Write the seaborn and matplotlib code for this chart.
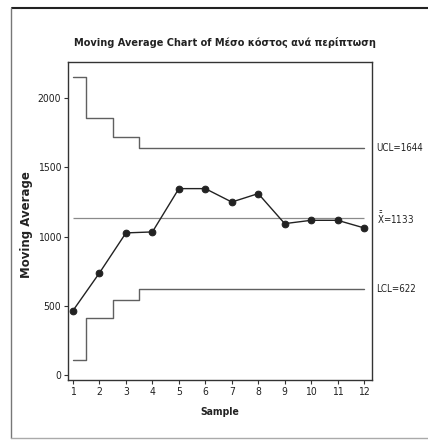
import matplotlib
matplotlib.use("Agg")
import matplotlib.pyplot as plt
from matplotlib.lines import Line2D
import numpy as np
import pandas as pd
import seaborn as sns

# Moving average of the mean cost per case, with limits that narrow as the span fills
samples = list(range(1, 13))
moving_avg = [466, 738, 1027, 1034, 1347, 1347, 1250, 1311, 1094, 1118, 1118, 1063]
center = 1133
ucl = [2155, 1856, 1723, 1644, 1644, 1644, 1644, 1644, 1644, 1644, 1644, 1644]
lcl = [111, 410, 543, 622, 622, 622, 622, 622, 622, 622, 622, 622]
y_ticks = [0, 500, 1000, 1500, 2000]

sns.set_theme(style="white")
plt.rcParams["font.family"] = ["DejaVu Sans"]
plt.rcParams["font.stretch"] = "condensed"
plt.rcParams["mathtext.fontset"] = "dejavusans"

df = pd.DataFrame({"Sample": samples, "MA": moving_avg, "UCL": ucl, "LCL": lcl})

fig = plt.figure(figsize=(4.28, 4.40), dpi=100)
ax = fig.add_axes([68 / 428, 1 - 380 / 440, (372 - 68) / 428, (380 - 62) / 440])

lim_color = "#8a8a8a"
sns.lineplot(data=df, x="Sample", y="UCL", ax=ax, color="#606060", lw=1.0,
             drawstyle="steps-mid")
sns.lineplot(data=df, x="Sample", y="LCL", ax=ax, color="#606060", lw=1.0,
             drawstyle="steps-mid")
ax.hlines(center, samples[0], samples[-1], color=lim_color, lw=0.9)
sns.lineplot(data=df, x="Sample", y="MA", ax=ax, color="#222222", lw=1.0,
             marker="o", markersize=4.8, markeredgecolor="#222222")

ax.set_xlim(0.81, 12.3)
ax.set_ylim(-36, 2262)
ax.set_xticks(samples)
ax.set_yticks(y_ticks)
ax.tick_params(axis="both", which="major", length=3, width=0.8, color="#333333",
               labelsize=7.5, labelcolor="#222222", direction="out",
               bottom=True, left=True, pad=2)
for s in ax.spines.values():
    s.set_color("#333333")
    s.set_linewidth(1.0)

ax.set_xlabel("Sample", fontsize=7.5, fontweight="bold", color="#222222", labelpad=7)
ax.set_ylabel("Moving Average", fontsize=8.5, fontweight="bold", color="#222222",
              labelpad=2, fontstretch="normal")
ax.yaxis.set_label_coords(-0.115, 0.49)

trans = ax.get_yaxis_transform()
lbl = dict(transform=trans, fontsize=7, color="#222222", va="center", ha="left",
           clip_on=False)
ax.text(1.015, 1644, "UCL=1644", **lbl)
ax.text(1.015, center, r"$\bar{\bar{\mathrm{X}}}$=1133", **lbl)
ax.text(1.015, 622, "LCL=622", **lbl)

fig.text(225 / 428, 1 - 43 / 440, "Moving Average Chart of Μέσο κόστος ανά περίπτωση",
         ha="center", va="center", fontsize=7.8, fontweight="bold", color="#222222")

# Outer frame around the whole chart
fig.add_artist(Line2D([12 / 428, 1], [1 - 8 / 440, 1 - 8 / 440], color="#222222", lw=1.5))
fig.add_artist(Line2D([11 / 428, 11 / 428], [1 - 8 / 440, 1 - 438 / 440],
                      color="#777777", lw=1.0))
fig.add_artist(Line2D([11 / 428, 1], [1 - 438 / 440, 1 - 438 / 440],
                      color="#aaaaaa", lw=1.0))

fig.savefig("out.png", dpi=100)
